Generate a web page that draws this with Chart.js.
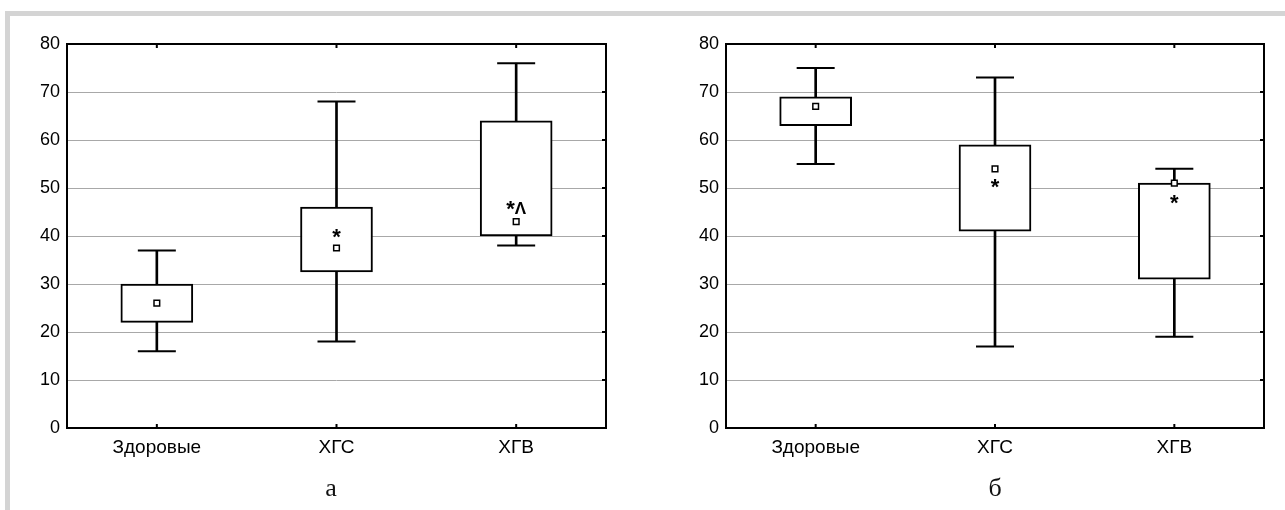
<!DOCTYPE html>
<html>
<head>
<meta charset="utf-8">
<script src="https://cdn.jsdelivr.net/npm/chart.js@4.4.1/dist/chart.umd.min.js"></script>
<style>
  html, body { margin: 0; padding: 0; background: #fff; }
  body { width: 1285px; height: 510px; position: relative; overflow: hidden; }
  .bar-top { position: absolute; left: 5px; top: 11px; width: 1280px; height: 5px; background: #d4d4d4; }
  .bar-left { position: absolute; left: 5px; top: 11px; width: 5px; height: 499px; background: #d4d4d4; }
  .panel { position: absolute; top: 16px; height: 460px; }
  .sub { position: absolute; top: 473px; font: 26px "Liberation Serif", serif; line-height: 30px; color: #111; transform: translateX(-50%); }
</style>
</head>
<body>
<div class="bar-top"></div>
<div class="bar-left"></div>
<div class="panel" style="left:10px;width:630px"><canvas id="chartA"></canvas></div>
<div class="panel" style="left:640px;width:645px"><canvas id="chartB"></canvas></div>
<div class="sub" style="left:331px">а</div>
<div class="sub" style="left:995px">б</div>

<script>
// группы
const categories = ['Здоровые', 'ХГС', 'ХГВ'];

// панель а
const aMin  = [16, 18, 38];
const aQ1   = [22, 32.5, 40];
const aQ3   = [30, 46, 64];
const aMax  = [37, 68, 76];
const aMean = [26, 37.5, 43];
const aMarks = ['', '*', '*Λ'];
const aMarkY = [null, 40.5, 46.2];

// панель б
const bMin  = [55, 17, 19];
const bQ1   = [63, 41, 31];
const bQ3   = [69, 59, 51];
const bMax  = [75, 73, 54];
const bMean = [67, 54, 51];
const bMarks = ['', '*', '*'];
const bMarkY = [null, 50.8, 47.5];

// шкала Y
const yMin = 0, yMax = 80, yStep = 10;

// рамка + внутренние засечки
const framePlugin = {
  id: 'frame',
  afterDraw(chart) {
    const { ctx, chartArea: a, scales: { x, y } } = chart;
    ctx.save();
    ctx.strokeStyle = '#000';
    ctx.lineWidth = 2;
    ctx.strokeRect(a.left, a.top, a.right - a.left, a.bottom - a.top);
    ctx.beginPath();
    categories.forEach((c, i) => {
      const px = x.getPixelForValue(i);
      ctx.moveTo(px, a.top); ctx.lineTo(px, a.top + 4);
      ctx.moveTo(px, a.bottom); ctx.lineTo(px, a.bottom - 4);
    });
    for (let v = yMin + yStep; v < yMax; v += yStep) {
      const py = y.getPixelForValue(v);
      ctx.moveTo(a.right, py); ctx.lineTo(a.right - 4, py);
    }
    ctx.stroke();
    ctx.restore();
  }
};

// звездочки (значимость): '*' крупнее, 'Λ' мельче
const starFont = 'bold 22px "Liberation Sans", Arial, sans-serif';
const otherFont = 'bold 17px "Liberation Sans", Arial, sans-serif';
const marksPlugin = {
  id: 'marks',
  afterDatasetsDraw(chart, args, opts) {
    const { ctx, scales: { x, y } } = chart;
    ctx.save();
    ctx.fillStyle = '#000';
    ctx.textAlign = 'left';
    ctx.textBaseline = 'middle';
    opts.labels.forEach((t, i) => {
      if (!t) return;
      const chars = [...t];
      const widths = chars.map(ch => {
        ctx.font = ch === '*' ? starFont : otherFont;
        return ctx.measureText(ch).width;
      });
      const total = widths.reduce((s, w) => s + w, 0);
      let px = x.getPixelForValue(i) - total / 2;
      const py = y.getPixelForValue(opts.values[i]) + 4;
      chars.forEach((ch, k) => {
        ctx.font = ch === '*' ? starFont : otherFont;
        ctx.fillText(ch, px, ch === '*' ? py : py - 1);
        px += widths[k];
      });
    });
    ctx.restore();
  }
};

function makeChart(id, mins, q1, q3, maxs, means, marks, markY, yWidth, padRight) {
  const box = q1.map((v, i) => [v, q3[i]]);
  const whisk = mins.map((v, i) => [v, maxs[i]]);
  new Chart(document.getElementById(id), {
    type: 'bar',
    data: {
      labels: categories,
      datasets: [
        { type: 'line', data: means, showLine: false, pointStyle: 'rect', pointRadius: 4,
          pointBackgroundColor: '#fff', pointBorderColor: '#000', pointBorderWidth: 1.5, order: 0 },
        { data: box, backgroundColor: '#fff', borderColor: '#000', borderWidth: 2,
          borderSkipped: false, barThickness: 72, grouped: false, order: 1 },
        { data: whisk, backgroundColor: '#000', borderWidth: 0, barThickness: 2, grouped: false, order: 2 },
        { type: 'line', data: mins, showLine: false, pointStyle: 'line', pointRadius: 19,
          pointBorderColor: '#000', pointBorderWidth: 2, order: 2 },
        { type: 'line', data: maxs, showLine: false, pointStyle: 'line', pointRadius: 19,
          pointBorderColor: '#000', pointBorderWidth: 2, order: 2 }
      ]
    },
    options: {
      responsive: true,
      maintainAspectRatio: false,
      animation: false,
      layout: { padding: { top: 28, right: padRight, bottom: 0, left: 0 } },
      plugins: {
        legend: { display: false },
        tooltip: { enabled: false },
        marks: { labels: marks, values: markY }
      },
      scales: {
        x: {
          grid: { display: false, drawTicks: false },
          border: { display: false },
          ticks: { color: '#000', padding: 8, font: { family: '"Liberation Sans", Arial', size: 19 } },
          afterFit(s) { s.height = 48; }
        },
        y: {
          min: yMin, max: yMax,
          grid: { color: '#a8a8a8', lineWidth: 1, drawTicks: false },
          border: { display: false },
          ticks: { stepSize: yStep, color: '#000', padding: 7,
                   font: { family: '"Liberation Sans", Arial', size: 18 } },
          afterFit(s) { s.width = yWidth; }
        }
      }
    },
    plugins: [framePlugin, marksPlugin]
  });
}

makeChart('chartA', aMin, aQ1, aQ3, aMax, aMean, aMarks, aMarkY, 57, 34);
makeChart('chartB', bMin, bQ1, bQ3, bMax, bMean, bMarks, bMarkY, 86, 21);
</script>
</body>
</html>
